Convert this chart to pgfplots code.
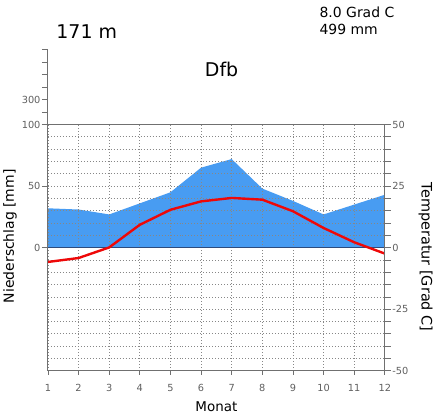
\documentclass[border=0pt]{standalone}
\usepackage{fontspec}
\setmainfont{DejaVu Sans}
\usepackage{pgfplots}
\pgfplotsset{compat=1.18}
\usepackage{pgfplotstable}

\definecolor{precipblue}{RGB}{72,156,242}
\definecolor{tempred}{RGB}{238,8,8}
\definecolor{axisgray}{RGB}{112,112,112}
\definecolor{gridgray}{RGB}{135,135,135}
\definecolor{labelgray}{RGB}{95,95,95}
\definecolor{zeroline}{RGB}{45,75,125}

% monthly precipitation [mm] and temperature [deg C]
\pgfplotstableread{
month precip temp
1  32 -5.8
2  31 -4.2
3  27  0.1
4  36  9.3
5  45 15.4
6  65 18.8
7  72 20.2
8  48 19.5
9  38 14.8
10 27  8.0
11 35  2.2
12 43 -2.4
}\climate

\pgfplotsset{
  climbase/.style={
    scale only axis, width=338pt, height=247pt,
    xmin=1, xmax=12, ymin=-50, ymax=50,
    at={(47pt,44pt)}, anchor=south west,
    tick label style={font=\fontsize{9.8}{11}\selectfont, text=labelgray},
    /pgf/number format/assume math mode=true,
    axis line style={axisgray, line width=1.1pt},
    every tick/.style={axisgray, line width=0.8pt},
  },
}

\begin{document}
\begin{tikzpicture}
% page frame
\path (0,0) rectangle (436pt,416pt);

% grid and data (precipitation drawn at half scale: 2 mm per degree)
\begin{axis}[climbase, set layers,
  xtick={1,...,12}, xticklabels={},
  ytick={-50,-45,...,50}, yticklabels={},
  major tick length=0pt, grid=major,
  major grid style={gridgray, line width=0.8pt, dash pattern=on 0.8pt off 2.2pt},
]
\addplot[on layer=axis background, fill=precipblue, draw=none]
  table[x=month, y expr=\thisrow{precip}/2] {\climate} \closedcycle;
\addplot[zeroline, line width=1pt] coordinates {(1,0) (12,0)};
\addplot[tempred, line width=2.4pt] table[x=month, y=temp] {\climate};
\end{axis}

% precipitation scale (left) and months (bottom)
\begin{axis}[climbase,
  axis x line*=bottom, axis y line*=left, tick align=outside,
  ytick={0,25,50}, yticklabels={0,50,100},
  xtick={1,...,12},
  major tick length=6pt,
  xtick style={/pgfplots/major tick length=4pt},
  yticklabel style={xshift=2pt},
  xticklabel style={yshift=-4pt},
]
\addplot[draw=none] coordinates {(1,0) (12,0)};
\end{axis}

% temperature scale (right)
\begin{axis}[climbase,
  axis x line=none, axis y line*=right, tick align=outside,
  ytick={-50,-25,...,50},
  minor ytick={-45,-40,...,45},
  major tick length=6pt, minor tick length=6pt,
  yticklabel style={xshift=-2pt},
]
\addplot[draw=none] coordinates {(1,0) (12,0)};
\end{axis}

% compressed precipitation scale above 100 mm
\begin{axis}[scale only axis, width=338pt, height=75pt,
  at={(47pt,291pt)}, anchor=south west,
  xmin=1, xmax=12, ymin=100, ymax=700,
  axis x line=none, axis y line*=left, tick align=outside,
  ytick={100,200,...,700}, yticklabels={,,300,,,,},
  major tick length=6pt,
  tick label style={font=\fontsize{9.8}{11}\selectfont, text=labelgray},
  /pgf/number format/assume math mode=true,
  axis line style={axisgray, line width=1.1pt},
  every tick/.style={axisgray, line width=0.8pt},
  yticklabel style={xshift=2pt},
]
\addplot[draw=none] coordinates {(1,200) (12,200)};
\end{axis}

% titles and axis labels
\node[anchor=base west, font=\fontsize{19}{22}\selectfont] at (52pt,377pt) {171 m};
\node[anchor=base west, font=\fontsize{19}{22}\selectfont] at (201pt,339pt) {Dfb};
\node[anchor=base west, font=\fontsize{14}{16}\selectfont] at (316pt,398.5pt) {8.0 Grad C};
\node[anchor=base west, font=\fontsize{14}{16}\selectfont] at (316pt,381pt) {499 mm};
\node[anchor=base, font=\fontsize{13.5}{15}\selectfont] at (216pt,3.5pt) {Monat};
\node[rotate=90, font=\fontsize{14}{16}\selectfont] at (9pt,179pt) {Niederschlag [mm]};
\node[rotate=-90, font=\fontsize{14.5}{16}\selectfont] at (426pt,158pt) {Temperatur [Grad C]};
\end{tikzpicture}
\end{document}
